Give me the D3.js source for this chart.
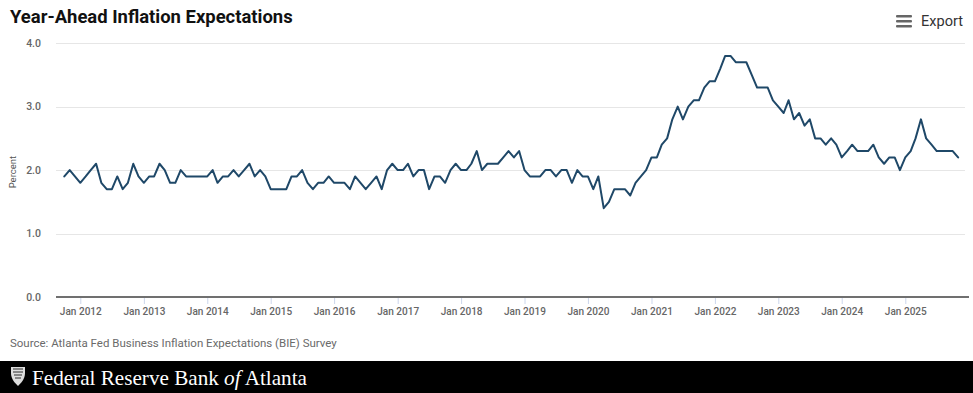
<!DOCTYPE html>
<html>
<head>
<meta charset="utf-8">
<script src="https://cdn.jsdelivr.net/npm/d3@7"></script>
<style>
  html, body { margin: 0; padding: 0; background: #fff; }
  svg { display: block; }
</style>
</head>
<body>
<svg id="chart" width="973" height="393"></svg>
<script>
// ---- data ----
const title = "Year-Ahead Inflation Expectations";
const yAxisTitle = "Percent";
const sourceText = "Source: Atlanta Fed Business Inflation Expectations (BIE) Survey";
const footerText = ["Federal Reserve Bank ", "of", " Atlanta"];
const firstMonth = "2011-10"; // first observation (monthly series)
const values = [
  1.9, 2.0, 1.9, 1.8, 1.9, 2.0, 2.1, 1.8, 1.7, 1.7,
  1.9, 1.7, 1.8, 2.1, 1.9, 1.8, 1.9, 1.9, 2.1, 2.0,
  1.8, 1.8, 2.0, 1.9, 1.9, 1.9, 1.9, 1.9, 2.0, 1.8,
  1.9, 1.9, 2.0, 1.9, 2.0, 2.1, 1.9, 2.0, 1.9, 1.7,
  1.7, 1.7, 1.7, 1.9, 1.9, 2.0, 1.8, 1.7, 1.8, 1.8,
  1.9, 1.8, 1.8, 1.8, 1.7, 1.9, 1.8, 1.7, 1.8, 1.9,
  1.7, 2.0, 2.1, 2.0, 2.0, 2.1, 1.9, 2.0, 2.0, 1.7,
  1.9, 1.9, 1.8, 2.0, 2.1, 2.0, 2.0, 2.1, 2.3, 2.0,
  2.1, 2.1, 2.1, 2.2, 2.3, 2.2, 2.3, 2.0, 1.9, 1.9,
  1.9, 2.0, 2.0, 1.9, 2.0, 2.0, 1.8, 2.0, 1.9, 1.9,
  1.7, 1.9, 1.4, 1.5, 1.7, 1.7, 1.7, 1.6, 1.8, 1.9,
  2.0, 2.2, 2.2, 2.4, 2.5, 2.8, 3.0, 2.8, 3.0, 3.1,
  3.1, 3.3, 3.4, 3.4, 3.6, 3.8, 3.8, 3.7, 3.7, 3.7,
  3.5, 3.3, 3.3, 3.3, 3.1, 3.0, 2.9, 3.1, 2.8, 2.9,
  2.7, 2.8, 2.5, 2.5, 2.4, 2.5, 2.4, 2.2, 2.3, 2.4,
  2.3, 2.3, 2.3, 2.4, 2.2, 2.1, 2.2, 2.2, 2.0, 2.2,
  2.3, 2.5, 2.8, 2.5, 2.4, 2.3, 2.3, 2.3, 2.3, 2.2
];
const yTicks = [0, 1, 2, 3, 4];
const yTickLabels = ["0.0", "1.0", "2.0", "3.0", "4.0"];
const xTickYears = [2012, 2013, 2014, 2015, 2016, 2017, 2018, 2019, 2020, 2021, 2022, 2023, 2024, 2025];

// ---- layout ----
const svg = d3.select("#chart");
const W = 973, H = 393;
const plotLeft = 56, plotRight = 969;
const gridRight = 965;
const yTop = 43.2, yBottom = 297;
const FONT = "Roboto, 'Noto Sans', sans-serif";

// scale a text's font-size so that it spans the target width
function fit(sel, target) {
  const fs = +sel.attr("font-size");
  const w = sel.node().getComputedTextLength();
  if (w > 0) sel.attr("font-size", (fs * target / w).toFixed(2));
  return sel;
}

const parseMonth = d3.utcParse("%Y-%m");
const start = parseMonth(firstMonth);
const series = values.map((v, i) => ({ date: d3.utcMonth.offset(start, i), value: v }));

const x = d3.scaleUtc()
  .domain([Date.UTC(2012, 0, 1), Date.UTC(2025, 0, 1)])
  .range([80.3, 905.3]);
const y = d3.scaleLinear().domain([0, 4]).range([yBottom, yTop]);

// title
fit(svg.append("text")
  .attr("x", 10).attr("y", 23)
  .attr("font-family", FONT).attr("font-weight", 700)
  .attr("font-size", 17.5).attr("fill", "#111")
  .text(title), 283);

// export button
const ex = svg.append("g").attr("transform", "translate(896,15)");
[0, 5, 10].forEach(dy => ex.append("rect")
  .attr("x", 0).attr("y", dy).attr("width", 16).attr("height", 2.6)
  .attr("rx", 1).attr("fill", "#666"));
fit(svg.append("text")
  .attr("x", 921).attr("y", 26)
  .attr("font-family", FONT).attr("font-size", 14).attr("fill", "#333")
  .text("Export"), 42);

// gridlines
svg.append("g").selectAll("line")
  .data(yTicks.filter(d => d > 0))
  .join("line")
  .attr("x1", plotLeft).attr("x2", gridRight)
  .attr("y1", d => Math.round(y(d)) + 0.5).attr("y2", d => Math.round(y(d)) + 0.5)
  .attr("stroke", "#e6e6e6").attr("stroke-width", 1);

// y labels
svg.append("g").selectAll("text")
  .data(yTicks)
  .join("text")
  .attr("x", 41).attr("y", d => y(d) + 3.5)
  .attr("text-anchor", "end")
  .attr("font-family", FONT).attr("font-size", 10.5).attr("font-weight", 500)
  .attr("fill", "#666")
  .text((d, i) => yTickLabels[i]);

// y axis title
svg.append("text")
  .attr("transform", `translate(16,${(yTop + yBottom) / 2 + 2}) rotate(-90)`)
  .attr("text-anchor", "middle")
  .attr("font-family", FONT).attr("font-size", 9.5).attr("fill", "#555")
  .text(yAxisTitle);

// x axis
const xAxis = d3.axisBottom(x)
  .tickValues(xTickYears.map(yr => new Date(Date.UTC(yr, 0, 1))))
  .tickFormat(d => "Jan " + d.getUTCFullYear())
  .tickSize(7).tickPadding(4);
const gx = svg.append("g").attr("transform", `translate(0,${yBottom})`).call(xAxis);
gx.select(".domain").remove();
gx.selectAll(".tick line").attr("stroke", "#ccd6eb").attr("stroke-width", 1);
gx.selectAll(".tick text")
  .attr("font-family", FONT).attr("font-size", 10).attr("font-weight", 500)
  .attr("fill", "#666");
gx.selectAll(".tick text").each(function () { fit(d3.select(this), 42); });
svg.append("line")
  .attr("x1", plotLeft).attr("x2", plotRight)
  .attr("y1", yBottom).attr("y2", yBottom)
  .attr("stroke", "#707070").attr("stroke-width", 2);

// series line
const line = d3.line().x(d => x(d.date)).y(d => y(d.value));
svg.append("path")
  .datum(series)
  .attr("d", line)
  .attr("fill", "none")
  .attr("stroke", "#1f4868")
  .attr("stroke-width", 2)
  .attr("stroke-linejoin", "round")
  .attr("stroke-linecap", "round");

// source
fit(svg.append("text")
  .attr("x", 10).attr("y", 347)
  .attr("font-family", FONT).attr("font-size", 11).attr("fill", "#6a6a6a")
  .text(sourceText), 327);

// footer
svg.append("rect").attr("x", 0).attr("y", 361).attr("width", W).attr("height", H - 361).attr("fill", "#000");
const logo = svg.append("g").attr("transform", "translate(11,367)");
logo.append("path")
  .attr("d", "M0,0 L14,0 L14,6 C14,12 10,16 7,19 C4,16 0,12 0,6 Z")
  .attr("fill", "#ddd");
logo.append("path")
  .attr("d", "M2,2 L12,2 M2,5 L12,5 M3,8 L11,8 M4,11 L10,11")
  .attr("stroke", "#000").attr("stroke-width", 0.8);
const ft = svg.append("text")
  .attr("x", 32).attr("y", 385)
  .attr("font-family", "'Liberation Serif', 'DejaVu Serif', serif")
  .attr("font-size", 20).attr("fill", "#fff");
ft.append("tspan").text(footerText[0]);
ft.append("tspan").attr("font-style", "italic").text(footerText[1]);
ft.append("tspan").text(footerText[2]);
fit(ft, 275);
</script>
</body>
</html>
